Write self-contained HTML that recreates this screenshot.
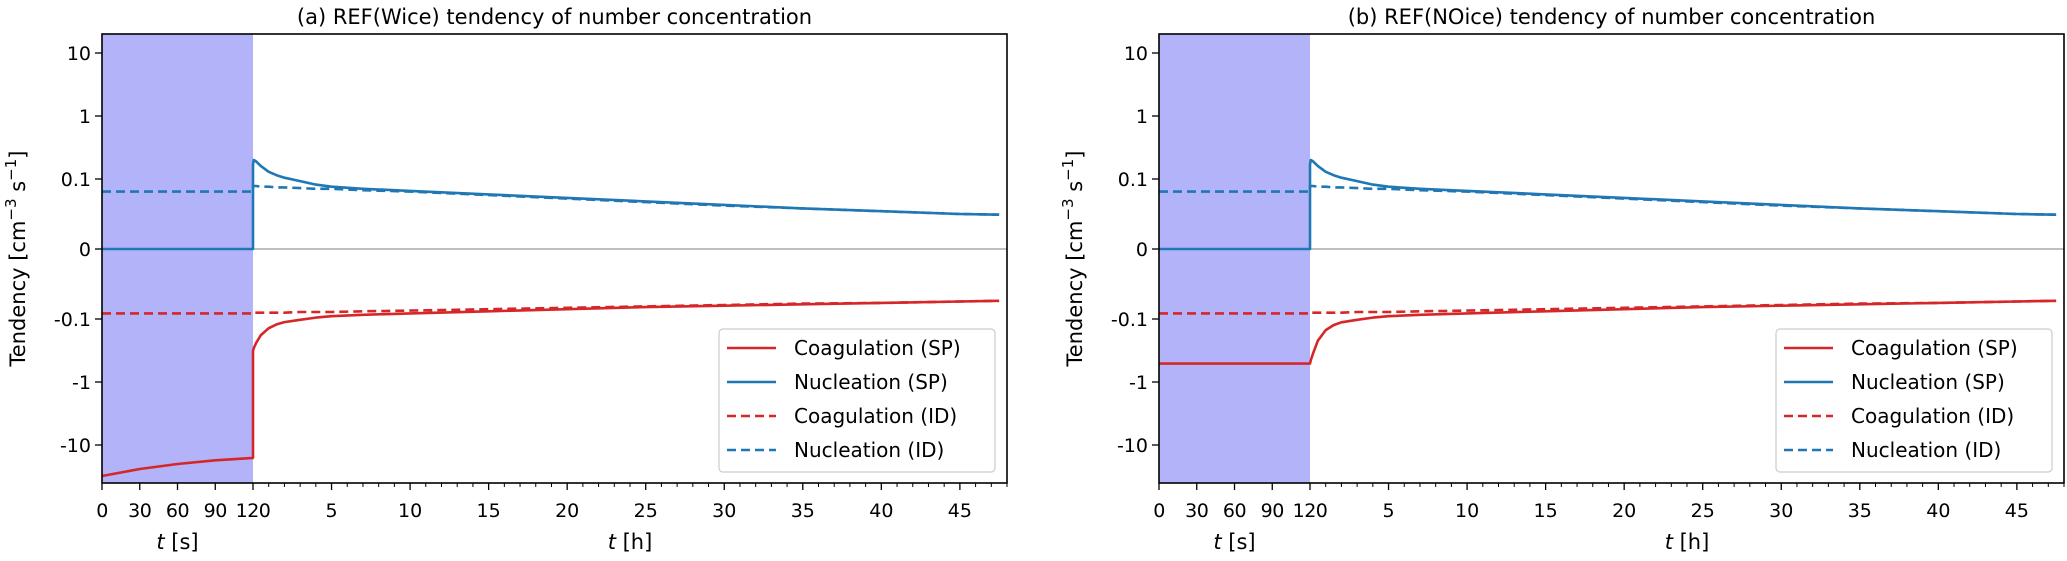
<!DOCTYPE html>
<html><head><meta charset="utf-8"><style>
html,body{margin:0;padding:0;background:#fff}
svg text{font-family:"DejaVu Sans","Liberation Sans",sans-serif;fill:#000}
</style></head><body>
<svg id="fig" width="2067" height="556" xmlns="http://www.w3.org/2000/svg"></svg>
<script>
// ---- data ----
const secTimes = [0, 30, 60, 90, 120];
const hourTimes = [0, 0.05, 0.2, 0.5, 1, 1.5, 2, 3, 4, 5, 7, 10, 15, 20, 25, 30, 35, 40, 45, 47.5];
const aCoagSPsec = [-31, -24, -20, -17.5, -16];
const aCoagSPhr = [-0.32, -0.29, -0.24, -0.18, -0.14, -0.122, -0.112, -0.103, -0.098, -0.096, -0.094, -0.092, -0.089, -0.086, -0.083, -0.081, -0.079, -0.077, -0.075, -0.074];
const bCoagSPsec = [-0.51, -0.51, -0.51, -0.51, -0.51];
const bCoagSPhr = [-0.51, -0.45, -0.35, -0.22, -0.15, -0.125, -0.113, -0.103, -0.098, -0.096, -0.094, -0.092, -0.089, -0.086, -0.083, -0.081, -0.079, -0.077, -0.075, -0.074];
const nucSPsec = [0, 0, 0, 0, 0];
const nucSPhr = [0.17, 0.2, 0.19, 0.16, 0.13, 0.115, 0.105, 0.097, 0.092, 0.089, 0.086, 0.083, 0.078, 0.073, 0.068, 0.063, 0.058, 0.054, 0.050, 0.049];
const coagIDsec = [-0.092, -0.092, -0.092, -0.092, -0.092];
const coagIDhr = [-0.091, -0.091, -0.091, -0.091, -0.091, -0.091, -0.091, -0.09, -0.09, -0.09, -0.089, -0.088, -0.086, -0.084, -0.082, -0.08, -0.078, -0.077, -0.075, -0.074];
const nucIDsec = [0.082, 0.082, 0.082, 0.082, 0.082];
const nucIDhr = [0.09, 0.09, 0.09, 0.089, 0.089, 0.088, 0.088, 0.087, 0.086, 0.086, 0.084, 0.082, 0.077, 0.072, 0.067, 0.062, 0.058, 0.054, 0.050, 0.049];
const yTickVals = [10, 1, 0.1, 0, -0.1, -1, -10];
const yTickLabels = ["10", "1", "0.1", "0", "-0.1", "-1", "-10"];
const secTickLabels = ["0", "30", "60", "90", "120"];
const hourTickVals = [5, 10, 15, 20, 25, 30, 35, 40, 45];
const legendLabels = ["Coagulation (SP)", "Nucleation (SP)", "Coagulation (ID)", "Nucleation (ID)"];
const titles = ["(a) REF(Wice) tendency of number concentration", "(b) REF(NOice) tendency of number concentration"];

const NS = "http://www.w3.org/2000/svg";
const svg = document.getElementById("fig");
const RED = "#d62728", BLUE = "#1f77b4";
function mk(tag, attrs, parent) {
  const e = document.createElementNS(NS, tag);
  for (const k in attrs) e.setAttribute(k, attrs[k]);
  (parent || svg).appendChild(e);
  return e;
}
const TOP = 34, BOT = 483, Y0 = 249, DEC = 63, LIN = 1 / 0.9;
function yScale(v) {
  const a = Math.abs(v);
  let d = a <= 0.1 ? a / 0.1 * LIN : LIN + Math.log10(a / 0.1);
  return Y0 - Math.sign(v) * d * DEC;
}
function drawPanel(off, idx, coagSPsec, coagSPhr) {
  const L = 102 + off, S = 253 + off, R = 1007 + off;
  const xs = s => L + (S - L) * s / 120;
  const xh = h => S + (R - S) * h / 48;
  const g = mk("g", {});
  
  
  const shade = mk("rect", {x: L, y: TOP, width: S - L, height: BOT - TOP, fill: "#b3b3fa"}, g);
  
  
  const zl = mk("line", {x1: L, x2: R, y1: yScale(0), y2: yScale(0), stroke: "#999", "stroke-width": 1.2}, g);
  
  
  function series(sec, hr, color, dash, name) {
    let pts = sec.map((v, i) => xs(secTimes[i]).toFixed(1) + "," + yScale(v).toFixed(1));
    pts = pts.concat(hr.map((v, i) => xh(hourTimes[i]).toFixed(1) + "," + yScale(v).toFixed(1)));
    const p = mk("polyline", {points: pts.join(" "), fill: "none", stroke: color, "stroke-width": 2.6, "stroke-dasharray": dash ? "9,5" : "none", "stroke-linejoin": "round"}, g);
    
    
  }
  series(coagIDsec, coagIDhr, RED, true, 'coagulation-id-line');
  series(nucIDsec, nucIDhr, BLUE, true, 'nucleation-id-line');
  series(coagSPsec, coagSPhr, RED, false, 'coagulation-sp-line');
  series(nucSPsec, nucSPhr, BLUE, false, 'nucleation-sp-line');
  const fr = mk("rect", {x: L, y: TOP, width: R - L, height: BOT - TOP, fill: "none", stroke: "#000", "stroke-width": 1.6}, g);
  
  
  yTickVals.forEach((v, i) => {
    const y = yScale(v);
    mk("line", {x1: L - 7, x2: L, y1: y, y2: y, stroke: "#000", "stroke-width": 1.3}, g);
    const t = mk("text", {x: L - 11, y: y + 7, "text-anchor": "end", "font-size": 19}, g);
    t.textContent = yTickLabels[i];
    
    
  });
  secTimes.forEach((s, i) => {
    const x = xs(s);
    mk("line", {x1: x, x2: x, y1: BOT, y2: BOT + 7, stroke: "#000", "stroke-width": 1.3}, g);
    const t = mk("text", {x: x, y: BOT + 34, "text-anchor": "middle", "font-size": 19, "letter-spacing": "-0.5"}, g);
    t.textContent = secTickLabels[i];
    
    
  });
  for (let h = 1; h <= 48; h++) {
    if (h % 5 === 0) continue;
    mk("line", {x1: xh(h), x2: xh(h), y1: BOT, y2: BOT + 4, stroke: "#000", "stroke-width": 1}, g);
  }
  hourTickVals.forEach(h => {
    const x = xh(h);
    mk("line", {x1: x, x2: x, y1: BOT, y2: BOT + 7, stroke: "#000", "stroke-width": 1.3}, g);
    const t = mk("text", {x: x, y: BOT + 34, "text-anchor": "middle", "font-size": 19}, g);
    t.textContent = String(h);
    
    
  });
  const xl1 = mk("text", {x: (L + S) / 2, y: BOT + 66, "text-anchor": "middle", "font-size": 21}, g);
  xl1.innerHTML = '<tspan font-style="italic">t</tspan> [s]';
  
  
  const xl2 = mk("text", {x: (S + R) / 2, y: BOT + 66, "text-anchor": "middle", "font-size": 21}, g);
  xl2.innerHTML = '<tspan font-style="italic">t</tspan> [h]';
  
  
  const yl = mk("text", {x: 0, y: 0, "text-anchor": "middle", "font-size": 21, transform: `translate(${off + 25},${(TOP + BOT) / 2}) rotate(-90)`}, g);
  yl.innerHTML = 'Tendency [cm<tspan dy="-9" font-size="15">−3</tspan><tspan dy="9"> s</tspan><tspan dy="-9" font-size="15">−1</tspan><tspan dy="9">]</tspan>';
  
  
  const ti = mk("text", {x: (L + R) / 2, y: 24, "text-anchor": "middle", "font-size": 21}, g);
  ti.textContent = titles[idx];
  
  
  const lg = mk("g", {}, g);
  
  
  mk("rect", {x: 719 + off, y: 329, width: 276, height: 143, rx: 4, fill: "#fff", "fill-opacity": 0.85, stroke: "#ccc", "stroke-width": 1.2}, lg);
  const cols = [RED, BLUE, RED, BLUE];
  legendLabels.forEach((lab, i) => {
    const y = 348 + i * 34;
    mk("line", {x1: 727 + off, x2: 776 + off, y1: y, y2: y, stroke: cols[i], "stroke-width": 2.6, "stroke-dasharray": i >= 2 ? "9,5" : "none"}, lg);
    const t = mk("text", {x: 794 + off, y: y + 7, "font-size": 20}, lg);
    t.textContent = lab;
    
    
  });
}
drawPanel(0, 0, aCoagSPsec, aCoagSPhr);
drawPanel(1057, 1, bCoagSPsec, bCoagSPhr);
</script>
</body></html>
